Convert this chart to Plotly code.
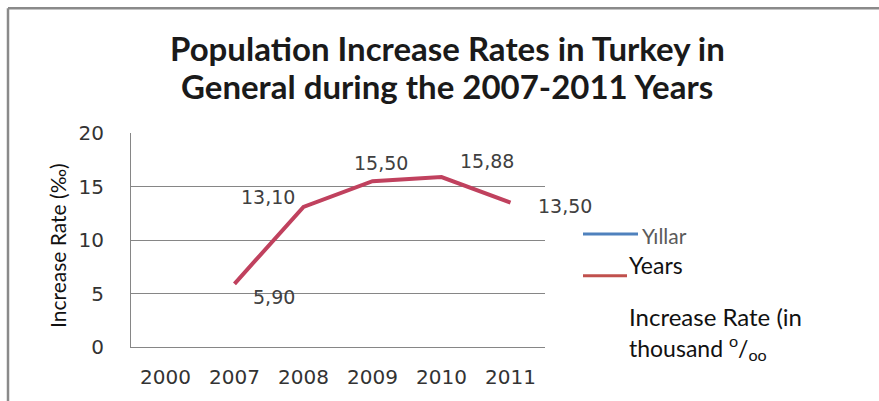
import plotly.graph_objects as go

# ---- data ----
categories = ["2000", "2007", "2008", "2009", "2010", "2011"]
increase_rate = [None, 5.90, 13.10, 15.50, 15.88, 13.50]
value_labels = ["", "5,90", "13,10", "15,50", "15,88", "13,50"]
y_ticks = [0, 5, 10, 15, 20]
title_lines = ["Population Increase Rates in Turkey in",
               "General during the 2007-2011 Years"]

# label offsets (px) relative to each point – style only
label_shift = {"2007": (39, -13), "2008": (-36, 10), "2009": (8, 18),
               "2010": (45, 16), "2011": (54, -3)}

W, H = 879, 401
L, R, T, B = 131, 545, 133, 349   # plot area in px


def px(X):
    return (X - L) / (R - L)


def py(Y):
    return (B - Y) / (B - T)


fig = go.Figure()
fig.add_trace(go.Scatter(
    x=categories, y=increase_rate, mode="lines",
    line=dict(color="#C0415E", width=4), showlegend=False,
    connectgaps=False, hoverinfo="x+y"))

annotations = []
for i, (c, v, lab) in enumerate(zip(categories, increase_rate, value_labels)):
    if v is None:
        continue
    dx, dy = label_shift[c]
    annotations.append(dict(x=i, y=v, xref="x", yref="y", text=lab,
                            showarrow=False, xshift=dx, yshift=dy,
                            font=dict(family="DejaVu Sans", size=19, color="#404040")))

# title lines
annotations.append(dict(x=px(447), y=py(47), xref="paper", yref="paper",
                        xanchor="center", yanchor="middle",
                        text="<b>%s</b>" % title_lines[0], showarrow=False,
                        font=dict(family="Lato", size=33, color="#1a1a1a")))
annotations.append(dict(x=px(447), y=py(86), xref="paper", yref="paper",
                        xanchor="center", yanchor="middle",
                        text="<b>%s</b>" % title_lines[1], showarrow=False,
                        font=dict(family="Lato", size=33, color="#1a1a1a")))
# y axis title
annotations.append(dict(x=px(58), y=py(247), xref="paper", yref="paper",
                        xanchor="center", yanchor="middle",
                        text="Increase Rate (‰)", textangle=-90, showarrow=False,
                        font=dict(family="Lato", size=21, color="#111111")))
# legend texts
annotations.append(dict(x=px(640), y=py(236), xref="paper", yref="paper",
                        xanchor="left", yanchor="middle", text="Yıllar", showarrow=False,
                        font=dict(family="Lato", size=21, color="#5a5a5a")))
annotations.append(dict(x=px(627), y=py(266), xref="paper", yref="paper",
                        xanchor="left", yanchor="middle", text="Years", showarrow=False,
                        font=dict(family="Lato", size=23, color="#111111")))
annotations.append(dict(x=px(627), y=py(318), xref="paper", yref="paper",
                        xanchor="left", yanchor="middle", text="Increase Rate (in",
                        showarrow=False,
                        font=dict(family="Lato", size=24, color="#111111")))
annotations.append(dict(x=px(627), y=py(349), xref="paper", yref="paper",
                        xanchor="left", yanchor="middle",
                        text="thousand <sup>o</sup>/<sub>oo</sub>",
                        showarrow=False,
                        font=dict(family="Lato", size=23, color="#111111")))

shapes = [
    # chart frame
    dict(type="line", xref="paper", yref="paper", x0=px(8), x1=px(8),
         y0=py(7), y1=py(420), line=dict(color="#8a8a8a", width=2.5)),
    dict(type="line", xref="paper", yref="paper", x0=px(8), x1=px(900),
         y0=py(7), y1=py(7), line=dict(color="#8a8a8a", width=2.5)),
    # legend keys
    dict(type="line", xref="paper", yref="paper", x0=px(583), x1=px(638),
         y0=py(235), y1=py(235), line=dict(color="#4F81BD", width=3)),
    dict(type="line", xref="paper", yref="paper", x0=px(583), x1=px(627),
         y0=py(277), y1=py(277), line=dict(color="#C0504D", width=3)),
]

fig.update_layout(
    width=W, height=H,
    margin=dict(l=L, r=W - R, t=T, b=H - B, pad=0),
    paper_bgcolor="white", plot_bgcolor="white",
    annotations=annotations, shapes=shapes,
    xaxis=dict(type="category", categoryorder="array", categoryarray=categories,
               range=[-0.5, len(categories) - 0.5],
               showgrid=False, showline=True, linecolor="#868686", linewidth=1,
               ticks="", ticklabelstandoff=12, fixedrange=True,
               tickfont=dict(family="DejaVu Sans", size=20, color="#333333")),
    yaxis=dict(range=[0, 20], tickvals=y_ticks, showgrid=True,
               gridcolor="#868686", gridwidth=1, showline=True,
               linecolor="#868686", linewidth=1, zeroline=False,
               ticks="", ticklabelstandoff=22, fixedrange=True,
               tickfont=dict(family="DejaVu Sans", size=20, color="#333333")),
    showlegend=False,
)

fig.write_html("out.html")
